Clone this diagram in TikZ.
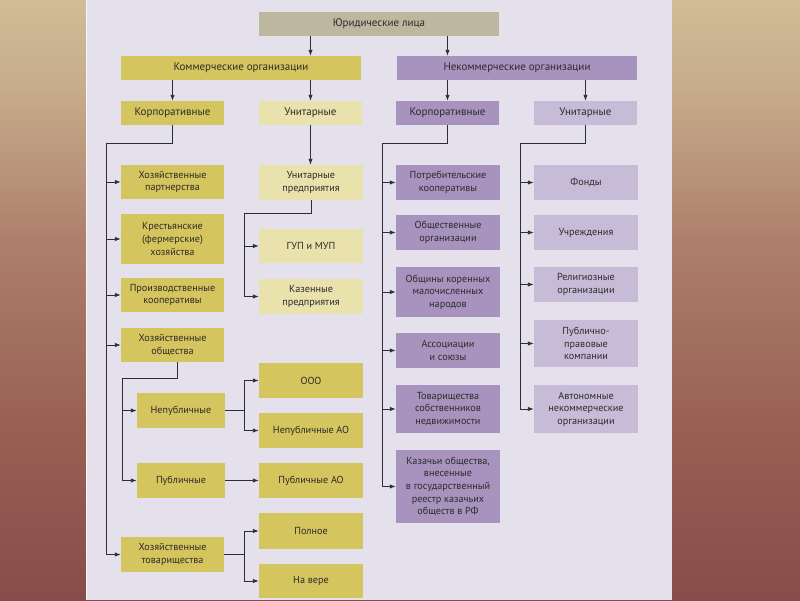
\documentclass[tikz,border=0pt]{standalone}
\usepackage{fontspec}
\setmainfont{PT Sans}
\usetikzlibrary{arrows.meta,calc}
\definecolor{panel}{RGB}{229,225,236}
\definecolor{cjl}{RGB}{190,183,160}
\definecolor{cyel}{RGB}{213,197,94}
\definecolor{cyell}{RGB}{233,226,172}
\definecolor{cpur}{RGB}{168,146,190}
\definecolor{cpurl}{RGB}{198,188,216}
\definecolor{txt}{RGB}{45,43,42}
\definecolor{ln}{RGB}{45,45,50}
\pgfdeclareverticalshading{bgshade}{100bp}{
  rgb(0bp)=(0.44,0.17,0.21);
  rgb(10bp)=(0.47,0.2,0.23);
  rgb(25bp)=(0.53,0.3,0.29);
  rgb(40bp)=(0.6,0.38,0.33);
  rgb(55bp)=(0.68,0.5,0.42);
  rgb(68bp)=(0.78,0.68,0.55);
  rgb(80bp)=(0.84,0.78,0.62);
  rgb(100bp)=(0.85,0.79,0.63)}
\tikzset{
  box/.style={draw=none, inner sep=0pt, align=center, text=txt,
    font=\fontsize{10.2}{12.6}\selectfont},
  hbox/.style={box, font=\fontsize{11}{13}\selectfont},
  jlbox/.style={hbox, fill=cjl},
  ybox/.style={box, fill=cyel},
  lybox/.style={box, fill=cyell},
  pbox/.style={box, fill=cpur},
  lpbox/.style={box, fill=cpurl},
  conn/.style={draw=ln, line width=0.9pt},
  arr/.style={conn, -{Latex[length=6pt,width=4.5pt]}},
}
\begin{document}
\begin{tikzpicture}[x=1pt,y=-1pt]
\useasboundingbox (0,0) rectangle (800,600);
% background
\shade[shading=bgshade] (0,0) rectangle (800,600);
\fill[panel] (86,0) rectangle (672,600);
\draw[white!70!panel, line width=1pt] (86.5,0) -- (86.5,600);

% top level
\node[jlbox, minimum width=240, minimum height=24] (jl) at (379,24) {Юридические лица};
\node[ybox, hbox, minimum width=240, minimum height=24] (com) at (241,68) {Коммерческие организации};
\node[pbox, hbox, minimum width=240, minimum height=24] (ncom) at (517,68) {Некоммерческие организации};
\node[ybox, hbox, minimum width=103, minimum height=24] (ckorp) at (172.5,113) {Корпоративные};
\node[lybox, hbox, minimum width=103, minimum height=24] (cun) at (310.5,113) {Унитарные};
\node[pbox, hbox, minimum width=103, minimum height=24] (nkorp) at (447.5,113) {Корпоративные};
\node[lpbox, hbox, minimum width=103, minimum height=24] (nun) at (585.5,113) {Унитарные};

% commercial corporate
\node[ybox, minimum width=103, minimum height=34] (hp) at (172.5,182) {Хозяйственные\\партнерства};
\node[ybox, minimum width=103, minimum height=50] (kfh) at (172.5,239) {Крестьянские\\(фермерские)\\хозяйства};
\node[ybox, minimum width=103, minimum height=34] (pk) at (172.5,295) {Производственные\\кооперативы};
\node[ybox, minimum width=103, minimum height=34] (ho) at (172.5,345) {Хозяйственные\\общества};
\node[ybox, minimum width=103, minimum height=35] (ht) at (172.5,554.5) {Хозяйственные\\товарищества};
\node[ybox, minimum width=88, minimum height=35] (np) at (181,410.5) {Непубличные};
\node[ybox, minimum width=88, minimum height=35] (pub) at (181,480.5) {Публичные};
\node[ybox, minimum width=104, minimum height=35] (ooo) at (311,380.5) {ООО};
\node[ybox, minimum width=104, minimum height=35] (npao) at (311,430.5) {Непубличные АО};
\node[ybox, minimum width=104, minimum height=35] (pao) at (311,480.5) {Публичные АО};
\node[ybox, minimum width=104, minimum height=36] (poln) at (311,531) {Полное};
\node[ybox, minimum width=104, minimum height=34] (nav) at (311,581) {На вере};

% commercial unitary
\node[lybox, minimum width=104, minimum height=35] (up) at (311,182.5) {Унитарные\\предприятия};
\node[lybox, minimum width=104, minimum height=34] (gup) at (311,246) {ГУП и МУП};
\node[lybox, minimum width=104, minimum height=35] (kaz) at (311,296.5) {Казенные\\предприятия};

% noncommercial corporate
\node[pbox, minimum width=104, minimum height=35] (potr) at (448,182.5) {Потребительские\\кооперативы};
\node[pbox, minimum width=104, minimum height=35] (obsh) at (448,232.5) {Общественные\\организации};
\node[pbox, minimum width=104, minimum height=50] (obshch) at (448,292) {Общины коренных\\малочисленных\\народов};
\node[pbox, minimum width=104, minimum height=35] (assoc) at (448,350.5) {Ассоциации\\и союзы};
\node[pbox, minimum width=104, minimum height=48] (tsn) at (448,409) {Товарищества\\собственников\\недвижимости};
\node[pbox, minimum width=104, minimum height=73] (kazach) at (448,486.5) {Казачьи общества,\\внесенные\\в государственный\\реестр казачьих\\обществ в РФ};

% noncommercial unitary
\node[lpbox, minimum width=104, minimum height=35] (fond) at (586,182.5) {Фонды};
\node[lpbox, minimum width=104, minimum height=35] (uchr) at (586,232.5) {Учреждения};
\node[lpbox, minimum width=104, minimum height=35] (relig) at (586,284.5) {Религиозные\\организации};
\node[lpbox, minimum width=104, minimum height=47] (ppk) at (586,343.5) {Публично-\\правовые\\компании};
\node[lpbox, minimum width=104, minimum height=48] (ano) at (586,409) {Автономные\\некоммерческие\\организации};

% top arrows
\draw[arr] (jl.south -| cun) -- (com.north -| cun);
\draw[arr] (jl.south -| nkorp) -- (ncom.north -| nkorp);
\draw[arr] (com.south -| ckorp) -- (ckorp.north);
\draw[arr] (com.south -| cun) -- (cun.north);
\draw[arr] (ncom.south -| nkorp) -- (nkorp.north);
\draw[arr] (ncom.south -| nun) -- (nun.north);

% commercial corporate trunk
\coordinate (t1) at (106,143);
\draw[conn] (ckorp.south) |- (t1) -- (t1 |- ht);
\foreach \n in {hp,kfh,pk,ho,ht} \draw[arr] (t1 |- \n.west) -- (\n.west);

% societies
\coordinate (t2) at (122,378);
\draw[conn] ($(ho.south)+(5,0)$) |- (t2) -- (t2 |- pub);
\foreach \n in {np,pub} \draw[arr] (t2 |- \n.west) -- (\n.west);
\coordinate (b1) at (244,410.5);
\draw[conn] (np.east) -- (b1);
\draw[arr] (b1) |- (ooo.west);
\draw[arr] (b1) |- (npao.west);
\draw[arr] (pub.east) -- (pao.west);
\coordinate (b2) at (244,554.5);
\draw[conn] (ht.east) -- (b2);
\draw[arr] (b2) |- (poln.west);
\draw[arr] (b2) |- (nav.west);

% commercial unitary
\draw[arr] (cun.south) -- (cun.south |- up.north);
\coordinate (t3) at (244,213);
\draw[conn] (up.south) |- (t3) -- (t3 |- kaz);
\foreach \n in {gup,kaz} \draw[arr] (t3 |- \n.west) -- (\n.west);

% noncommercial corporate
\coordinate (t4) at (382,143);
\draw[conn] (nkorp.south) |- (t4) -- (t4 |- kazach);
\foreach \n in {potr,obsh,obshch,assoc,tsn,kazach} \draw[arr] (t4 |- \n.west) -- (\n.west);

% noncommercial unitary
\coordinate (t5) at (520,143);
\draw[conn] (nun.south) |- (t5) -- (t5 |- ano);
\foreach \n in {fond,uchr,relig,ppk,ano} \draw[arr] (t5 |- \n.west) -- (\n.west);
\end{tikzpicture}
\end{document}
